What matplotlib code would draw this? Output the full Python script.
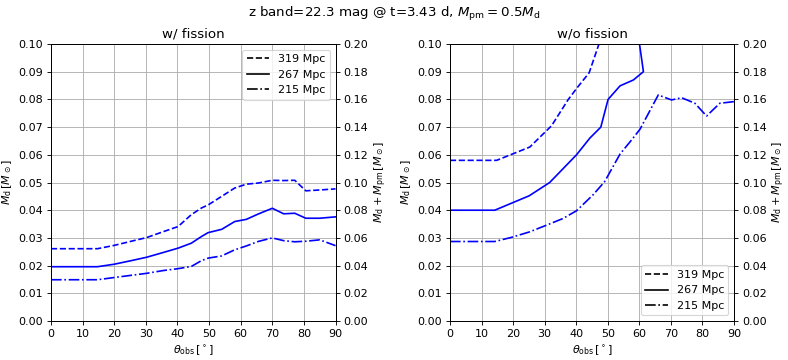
import matplotlib
matplotlib.use("Agg")
import matplotlib.pyplot as plt
import numpy as np

# w/ fission
theta_fis = [0, 14.7, 20, 25.4, 30.2, 35.4, 40.2, 44.4, 47.6, 49.7, 54, 58.1, 61.8,
             65.5, 70, 73.6, 77.1, 80.6, 85, 90]
fis_319 = [0.0261, 0.0261, 0.0273, 0.0288, 0.0301, 0.0322, 0.0341, 0.0384, 0.0408, 0.0419,
           0.0450, 0.0480, 0.0494, 0.0498, 0.0508, 0.0507, 0.0508, 0.0470, 0.0473, 0.0477]
fis_267 = [0.0196, 0.0196, 0.0205, 0.0218, 0.0230, 0.0247, 0.0263, 0.0281, 0.0305, 0.0319,
           0.0331, 0.0359, 0.0367, 0.0386, 0.0407, 0.0387, 0.0389, 0.0371, 0.0371, 0.0376]
fis_215 = [0.0149, 0.0149, 0.0157, 0.0165, 0.0172, 0.0182, 0.0189, 0.0197, 0.0218, 0.0227,
           0.0235, 0.0257, 0.0271, 0.0287, 0.0300, 0.0290, 0.0286, 0.0288, 0.0293, 0.0272]

# w/o fission
theta_319 = [0, 14.8, 25.3, 32.2, 37.5, 40.5, 44.1, 50.2]
nofis_319 = [0.0580, 0.0580, 0.0628, 0.0705, 0.0800, 0.0845, 0.0896, 0.1100]
theta_267 = [0, 14.2, 25.1, 31.6, 40.1, 44.3, 47.8, 50.1, 53.9, 58.1, 61.3, 58.8]
nofis_267 = [0.0400, 0.0400, 0.0452, 0.0500, 0.0600, 0.0660, 0.0700, 0.0800, 0.0849,
             0.0870, 0.0900, 0.1100]
theta_215 = [0, 14.2, 19.5, 25.3, 30.6, 35.8, 40.1, 45.3, 49.0, 53.9, 57.5, 60.2, 66.0,
             70.2, 73.4, 77.6, 81.3, 85.5, 90]
nofis_215 = [0.0287, 0.0287, 0.0302, 0.0322, 0.0346, 0.0370, 0.0398, 0.0455, 0.0503,
             0.0603, 0.0653, 0.0692, 0.0816, 0.0798, 0.0806, 0.0786, 0.0740, 0.0786, 0.0792]

labels = ["319 Mpc", "267 Mpc", "215 Mpc"]
styles = ["--", "-", "-."]

fig = plt.figure(figsize=(9.85, 4.5), dpi=80)
ax1 = fig.add_axes([0.0647, 0.1083, 0.3611, 0.7695])
ax2 = fig.add_axes([0.571, 0.1083, 0.3605, 0.7695])

panels = [
    (ax1, "w/ fission", [(theta_fis, fis_319), (theta_fis, fis_267), (theta_fis, fis_215)],
     "upper right"),
    (ax2, "w/o fission", [(theta_319, nofis_319), (theta_267, nofis_267), (theta_215, nofis_215)],
     "lower right"),
]

for ax, title, series, loc in panels:
    for (x, y), ls in zip(series, styles):
        ax.plot(x, y, color="blue", linestyle=ls)
    for lab, ls in zip(labels, styles):
        ax.plot([], [], color="black", linestyle=ls, label=lab)
    ax.set_xlim(0, 90)
    ax.set_ylim(0, 0.1)
    ax.set_xticks(range(0, 91, 10))
    ax.set_yticks(np.linspace(0, 0.1, 11))
    ax.grid(True)
    ax.set_title(title)
    ax.set_xlabel(r"$\theta_{\rm obs}\,[^\circ]$")
    ax.set_ylabel(r"$M_{\rm d}\,[M_\odot]$")
    ax.legend(loc=loc)
    tw = ax.twinx()
    tw.set_ylim(0, 0.2)
    tw.set_yticks(np.linspace(0, 0.2, 11))
    tw.set_ylabel(r"$M_{\rm d}+M_{\rm pm}\,[M_\odot]$")

fig.suptitle(r"z band=22.3 mag @ t=3.43 d, $M_{\rm pm}=0.5M_{\rm d}$", y=0.985)
fig.savefig("out.png", dpi=80)
